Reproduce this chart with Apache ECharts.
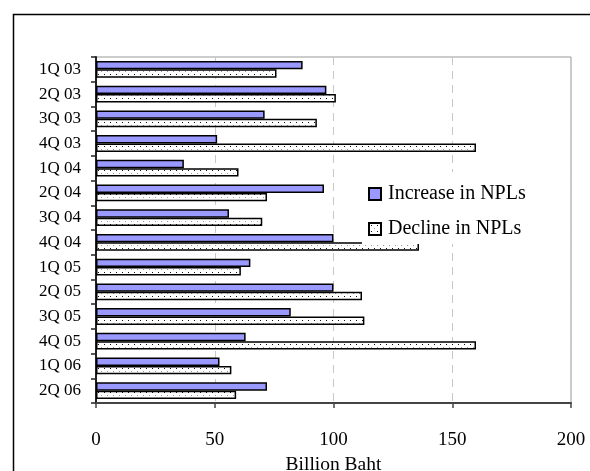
<!DOCTYPE html>
<html>
<head>
<meta charset="utf-8">
<script src="https://cdn.jsdelivr.net/npm/echarts@6/dist/echarts.min.js"></script>
<style>
html,body{margin:0;padding:0;background:#fff;}
#chart{width:590px;height:471px;}
</style>
</head>
<body>
<div id="chart"></div>
<script>
const categories = ['1Q 03','2Q 03','3Q 03','4Q 03','1Q 04','2Q 04','3Q 04','4Q 04','1Q 05','2Q 05','3Q 05','4Q 05','1Q 06','2Q 06'];
const increaseNPL = [87, 97, 71, 51, 37, 96, 56, 100, 65, 100, 82, 63, 52, 72];
const declineNPL = [76, 101, 93, 160, 60, 72, 70, 136, 61, 112, 113, 160, 57, 59];
const xTicks = [0, 50, 100, 150, 200];

function dotPattern(){
  const c = document.createElement('canvas');
  c.width = 6; c.height = 6;
  const g = c.getContext('2d');
  g.fillStyle = '#fff'; g.fillRect(0,0,6,6);
  g.fillStyle = '#111';
  g.fillRect(2,2,1,1);
  g.fillStyle = '#999';
  g.fillRect(5,5,1,1);
  return c;
}

const chart = echarts.init(document.getElementById('chart'), null, {renderer:'canvas'});
const serif = 'Liberation Serif, Times New Roman, serif';
chart.setOption({
  animation:false,
  backgroundColor:'#fff',
  graphic:[{
    type:'rect', left:11, top:12, z:-10,
    shape:{width:600, height:500},
    style:{fill:'none', stroke:'#000', lineWidth:1.5}
  }],
  grid:{left:96, right:19, top:57, bottom:68, show:true, borderColor:'#999', borderWidth:1,
        containLabel:false, outerBoundsMode:'none'},
  legend:{
    orient:'vertical', left:362, top:172,
    itemWidth:12, itemHeight:12, itemGap:15,
    backgroundColor:'#fff', padding:[12,8,5,6],
    textStyle:{fontFamily:serif, fontSize:20, color:'#000', padding:[0,0,0,2]},
    data:[{name:'Increase in NPLs', icon:'rect'},{name:'Decline in NPLs', icon:'rect'}]
  },
  xAxis:{
    type:'value', min:xTicks[0], max:xTicks[xTicks.length-1], interval:50,
    name:'Billion Baht', nameLocation:'middle', nameGap:46,
    nameTextStyle:{fontFamily:serif, fontSize:19.5, color:'#000'},
    axisLine:{show:true, lineStyle:{color:'#444', width:2}},
    axisTick:{show:true, length:5, lineStyle:{color:'#444', width:1.5}},
    axisLabel:{fontFamily:serif, fontSize:19, color:'#000', margin:28},
    splitLine:{show:true, lineStyle:{color:'#c8c8c8', type:[8,6], width:1}}
  },
  yAxis:{
    type:'category', data:categories, inverse:true,
    axisLine:{show:true, lineStyle:{color:'#222', width:2}},
    axisTick:{show:true, length:5, alignWithLabel:false, lineStyle:{color:'#222', width:1.5}},
    axisLabel:{fontFamily:serif, fontSize:17, color:'#000', margin:15},
    splitLine:{show:false}
  },
  series:[
    {
      name:'Increase in NPLs', type:'bar', data:increaseNPL,
      barGap:'0%', barCategoryGap:'32%',
      itemStyle:{color:'#9999ff', borderColor:'#000', borderWidth:1.5}
    },
    {
      name:'Decline in NPLs', type:'bar', data:declineNPL,
      itemStyle:{color:{image:dotPattern(), repeat:'repeat'}, borderColor:'#000', borderWidth:1.5}
    }
  ]
});
</script>
</body>
</html>
